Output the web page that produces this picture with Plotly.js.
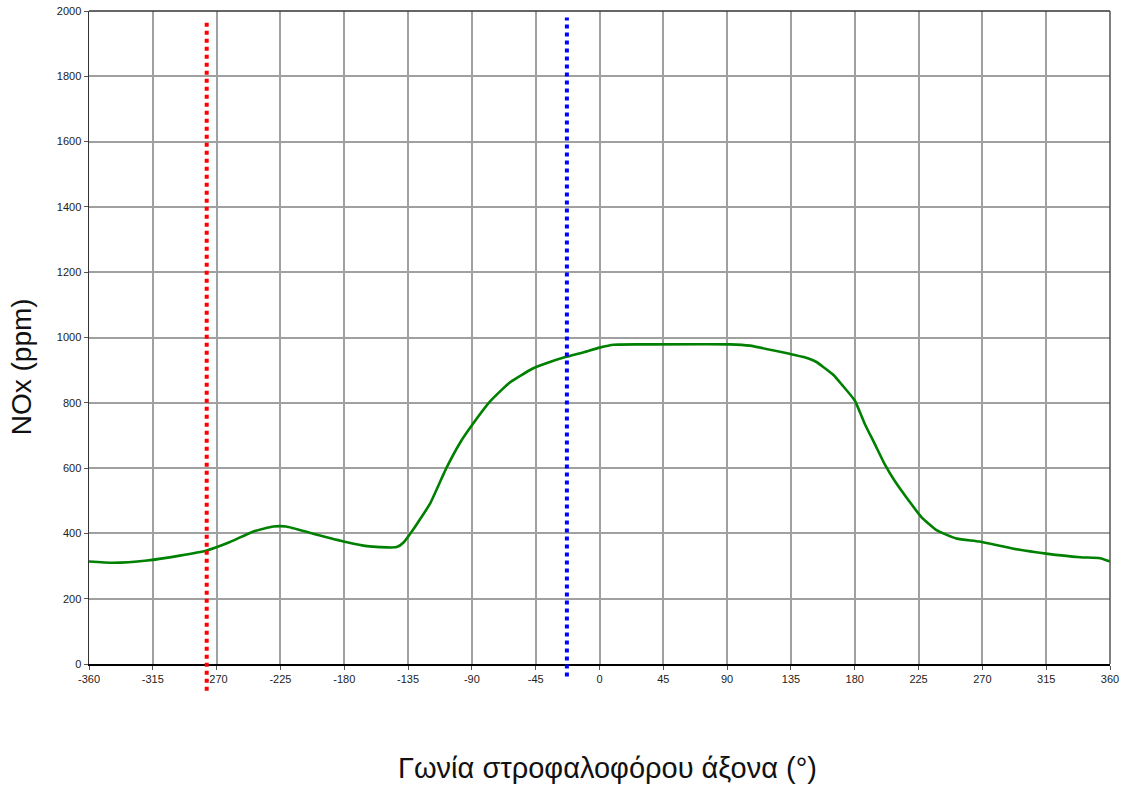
<!DOCTYPE html>
<html>
<head>
<meta charset="utf-8">
<script src="https://cdn.plot.ly/plotly-3.0.1.min.js"></script>
<style>html,body{margin:0;padding:0;background:#fff;}#chart{width:1127px;height:794px;}</style>
</head>
<body>
<div id="chart"></div>
<script>
// Crank angle (deg) and NOx (ppm)
const angle = [-360,-343,-319,-296,-277,-261,-244,-230,-221,-202,-178,-164,-155,-143,-138,-131,-126,-119.5,-108,-98,-91,-77,-63,-47,-35,-24,-11,0,10,36,92,106,134,144,153,158,165,171,180,187,194,201,208,218,227,238,252,268,292,315,339,353,360];
const nox = [314,310,317,332,348,373,406,421,421,399,373,361,358,358,373,414,447,491,600,680,725,805,863,905,925,940,955,969,978,979,979,975,950,940,925,909,885,855,807,736,675,613,562,501,450,409,384,375,353,338,327,324,314];

// Vertical marker angles
const markerAngles = [-277, -23];
const markerColors = ['#ff0000', '#0000ff'];
const markerTop = [0.986, 0.99];
const markerBottom = [-0.041, -0.019];

const xTicks = [-360,-315,-270,-225,-180,-135,-90,-45,0,45,90,135,180,225,270,315,360];
const yTicks = [0,200,400,600,800,1000,1200,1400,1600,1800,2000];

const xTitle = 'Γωνία στροφαλοφόρου άξονα (°)';
const yTitle = 'NOx (ppm)';

const traces = [{
  x: angle, y: nox, type: 'scatter', mode: 'lines',
  line: {color: '#008000', width: 2.6, shape: 'spline', smoothing: 0.5},
  hoverinfo: 'x+y'
}];

const shapes = markerAngles.map((a, i) => ({
  type: 'line', xref: 'x', yref: 'paper', x0: a, x1: a,
  y0: markerBottom[i], y1: markerTop[i],
  line: {color: markerColors[i], width: 4, dash: 'dot'}, layer: 'above'
}));

const layout = {
  width: 1127, height: 794,
  margin: {l: 89, r: 17, t: 11, b: 130},
  paper_bgcolor: '#ffffff', plot_bgcolor: '#ffffff',
  showlegend: false,
  font: {family: 'Arial, Liberation Sans, sans-serif', size: 11, color: '#222'},
  xaxis: {
    range: [-360, 360], tickmode: 'array', tickvals: xTicks, ticktext: xTicks.map(String),
    showgrid: true, gridcolor: '#a0a0a0', gridwidth: 2,
    zeroline: false, showline: true, linecolor: '#000', linewidth: 1.5, mirror: false,
    ticks: 'outside', ticklen: 4, tickcolor: '#555', tickwidth: 1,
    tickfont: {size: 11, color: '#222'},
    automargin: false
  },
  yaxis: {
    range: [0, 2000], tickmode: 'array', tickvals: yTicks, ticktext: yTicks.map(String),
    showgrid: true, gridcolor: '#a0a0a0', gridwidth: 2,
    zeroline: false, showline: true, linecolor: '#333', linewidth: 1.5, mirror: false,
    ticks: 'outside', ticklen: 4, tickcolor: '#555', tickwidth: 1,
    tickfont: {size: 11, color: '#222'},
    automargin: false
  },
  annotations: [
    {text: xTitle, xref: 'paper', yref: 'paper', x: (607 - 89) / 1021, y: (663.5 - 767) / 652.5,
     xanchor: 'center', yanchor: 'middle', showarrow: false, font: {size: 29, color: '#111'}},
    {text: yTitle, xref: 'paper', yref: 'paper', x: (21 - 89) / 1021, y: (663.5 - 367) / 652.5,
     xanchor: 'center', yanchor: 'middle', textangle: -90, showarrow: false, font: {size: 28, color: '#111'}}
  ],
  shapes: shapes.concat([
    {type: 'line', xref: 'paper', yref: 'paper', x0: 0, x1: 1, y0: 1, y1: 1, line: {color: '#333', width: 1.5}},
    {type: 'line', xref: 'paper', yref: 'paper', x0: 1, x1: 1, y0: 0, y1: 1, line: {color: '#555', width: 1.5}}
  ])
};

Plotly.newPlot('chart', traces, layout, {displayModeBar: false, staticPlot: true});
</script>
</body>
</html>
